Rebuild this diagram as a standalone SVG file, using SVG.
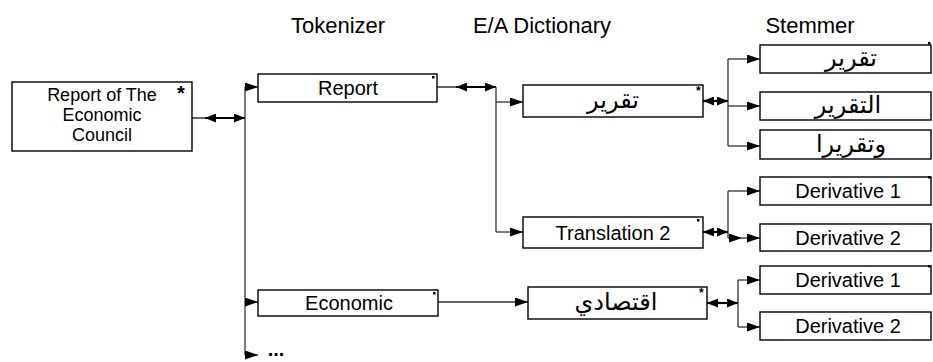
<svg xmlns="http://www.w3.org/2000/svg" width="933" height="362" viewBox="0 0 933 362">
<style>
.box{fill:#fff;stroke:#000;stroke-width:1.4}
.t{font-family:"Liberation Sans",Arial,sans-serif;font-size:20px;fill:#000;text-anchor:middle}
.rt{font-family:"Liberation Sans",Arial,sans-serif;font-size:18px;fill:#000;text-anchor:middle}
.h{font-family:"Liberation Sans",Arial,sans-serif;font-size:22px;fill:#000;text-anchor:middle}
.ar{font-family:"DejaVu Sans","Noto Sans","Liberation Sans",sans-serif;font-size:24px;fill:#000;text-anchor:middle}
.ln{fill:none;stroke:#333;stroke-width:1.3}
.ar1{fill:none;stroke:#333;stroke-width:1.3;marker-end:url(#ah)}
.dbl{fill:none;stroke:#000;stroke-width:2.2;marker-start:url(#ah2);marker-end:url(#ah2)}
.dd{fill:none;stroke:#333;stroke-width:1.3;marker-mid:url(#ah);marker-end:url(#ah)}
.dot{fill:#000}
.st{font-family:"Liberation Sans",Arial,sans-serif;font-size:12px;font-weight:bold;fill:#000}
</style>
<defs>
<marker id="ah" viewBox="0 0 13 9" refX="13" refY="4.5" markerWidth="13" markerHeight="9" markerUnits="userSpaceOnUse" orient="auto-start-reverse">
<path d="M0,0L13,4.5L0,9z" fill="#000"/>
</marker>
<marker id="ah2" viewBox="0 0 11 9" refX="11" refY="4.5" markerWidth="11" markerHeight="9" markerUnits="userSpaceOnUse" orient="auto-start-reverse">
<path d="M0,0L11,4.5L0,9z" fill="#000"/>
</marker>
</defs>
<rect width="933" height="362" fill="#fff"/>
<g id="headers">
<text class="h" x="338" y="33">Tokenizer</text>
<text class="h" x="542" y="33">E/A Dictionary</text>
<text class="h" x="810" y="33">Stemmer</text>
</g>
<g id="connectors">
<path class="ln" d="M192,118H245"/>
<path class="dbl" d="M205,118H245"/>
<path class="ln" d="M245,87V355"/>
<path class="ar1" d="M245,87H258"/>
<path class="ar1" d="M245,302H258"/>
<path class="ar1" d="M245,355H258"/>
<path class="ln" d="M437,87H496"/>
<path class="dbl" d="M456,87H496"/>
<path class="ln" d="M496,87V232"/>
<path class="ar1" d="M496,102H523"/>
<path class="ar1" d="M496,232H523"/>
<path class="dbl" d="M703,101H728"/>
<path class="ln" d="M728,59V146"/>
<path class="ar1" d="M728,59H760"/>
<path class="ar1" d="M728,106H760"/>
<path class="ar1" d="M728,146H760"/>
<path class="dbl" d="M703,232H728"/>
<path class="ln" d="M728,191V238"/>
<path class="ar1" d="M728,191H760"/>
<path class="dd" d="M728,238L742,238L760,238"/>
<path class="ar1" d="M438,302H528"/>
<path class="dbl" d="M707,303H738"/>
<path class="ln" d="M738,280V327"/>
<path class="ar1" d="M738,280H760"/>
<path class="ar1" d="M738,327H760"/>
</g>
<g id="root">
<rect class="box" x="12" y="82" width="180" height="69"/>
<text class="rt" x="102" y="101">Report of The</text>
<text class="rt" x="102" y="121">Economic</text>
<text class="rt" x="102" y="141">Council</text>
<text x="181" y="100" font-family="Liberation Sans,Arial,sans-serif" font-size="20" font-weight="bold" text-anchor="middle">*</text>
</g>
<g id="tok-report">
<rect class="box" x="258" y="74" width="179" height="28"/>
<text class="t" x="348" y="95">Report</text>
<rect class="dot" x="432" y="76" width="2.5" height="2.5"/>
</g>
<g id="tok-economic">
<rect class="box" x="258" y="290" width="180" height="26"/>
<text class="t" x="349" y="310">Economic</text>
<rect class="dot" x="433" y="292" width="2.5" height="2.5"/>
</g>
<g id="tok-more">
<text class="t" x="276" y="356" font-weight="bold">...</text>
</g>
<g id="dict-taqrir">
<rect class="box" x="523" y="85" width="180" height="32"/>
<text class="ar" x="613" y="108">تقرير</text>
<text class="st" x="696" y="95">*</text>
</g>
<g id="dict-translation2">
<rect class="box" x="523" y="217" width="180" height="31"/>
<text class="t" x="613" y="239.5">Translation 2</text>
<rect class="dot" x="697" y="219" width="2.5" height="2.5"/>
</g>
<g id="dict-iqtisadi">
<rect class="box" x="528" y="287" width="179" height="32"/>
<text class="ar" x="616" y="310">اقتصادي</text>
<text class="st" x="699" y="297">*</text>
</g>
<g id="stem-1">
<rect class="box" x="760" y="45" width="171" height="28"/>
<text class="ar" x="851" y="66">تقرير</text>
<rect class="dot" x="928" y="42" width="2.5" height="2.5"/>
</g>
<g id="stem-2">
<rect class="box" x="760" y="92" width="171" height="28"/>
<text class="ar" x="848" y="113">التقرير</text>
</g>
<g id="stem-3">
<rect class="box" x="760" y="130" width="171" height="29"/>
<text class="ar" x="851" y="152">وتقريرا</text>
</g>
<g id="der-1a">
<rect class="box" x="760" y="177" width="171" height="28"/>
<text class="t" x="848" y="198">Derivative 1</text>
<rect class="dot" x="928" y="176" width="2.5" height="2.5"/>
</g>
<g id="der-2a">
<rect class="box" x="760" y="224" width="171" height="27"/>
<text class="t" x="848" y="245">Derivative 2</text>
</g>
<g id="der-1b">
<rect class="box" x="760" y="266" width="171" height="28"/>
<text class="t" x="848" y="287">Derivative 1</text>
<rect class="dot" x="928" y="265" width="2.5" height="2.5"/>
</g>
<g id="der-2b">
<rect class="box" x="760" y="312" width="171" height="28"/>
<text class="t" x="848" y="333">Derivative 2</text>
</g>
</svg>
